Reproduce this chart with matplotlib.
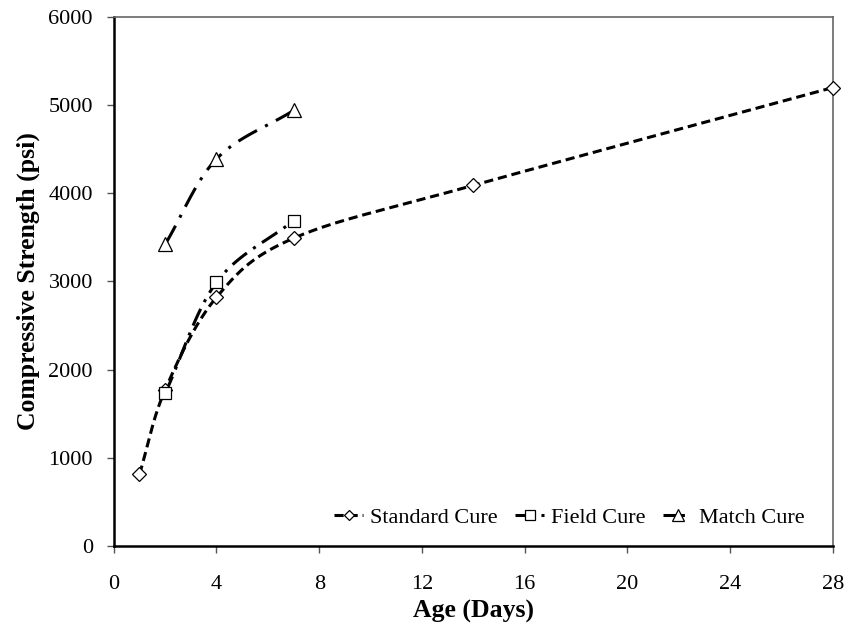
import numpy as np
import matplotlib
matplotlib.use("Agg")
import matplotlib.pyplot as plt
from matplotlib.lines import Line2D

plt.rcParams["font.family"] = ["Liberation Serif", "DejaVu Serif"]

# data
std_age = [1, 2, 4, 7, 14, 28]
std_psi = [810, 1770, 2820, 3490, 4090, 5200]
field_age = [2, 4, 7]
field_psi = [1730, 2990, 3690]
match_age = [2, 4, 7]
match_psi = [3420, 4390, 4940]


def smooth(x, y, n=40):
    # Catmull-Rom style curve through the points (like a spreadsheet "smoothed line")
    x = np.asarray(x, float); y = np.asarray(y, float)
    px = np.concatenate([[2 * x[0] - x[1]], x, [2 * x[-1] - x[-2]]])
    py = np.concatenate([[2 * y[0] - y[1]], y, [2 * y[-1] - y[-2]]])
    xs, ys = [], []
    t = np.linspace(0, 1, n)
    for i in range(1, len(px) - 2):
        for p, out in ((px, xs), (py, ys)):
            p0, p1, p2, p3 = p[i - 1], p[i], p[i + 1], p[i + 2]
            out.append(0.5 * ((2 * p1) + (-p0 + p2) * t
                              + (2 * p0 - 5 * p1 + 4 * p2 - p3) * t ** 2
                              + (-p0 + 3 * p1 - 3 * p2 + p3) * t ** 3))
    return np.concatenate(xs), np.concatenate(ys)


fig = plt.figure(figsize=(8.49, 6.31), dpi=100)
ax = fig.add_axes([0.134, 0.135, 0.847, 0.838])

series = [
    (std_age, std_psi, "Standard Cure", (0, (3.0, 1.6)), "D", 7),
    (field_age, field_psi, "Field Cure", (0, (6, 2.5, 1, 2.5)), "s", 9),
    (match_age, match_psi, "Match Cure", (0, (7, 3, 1, 3)), "^", 10),
]
handles = []
for x, y, lab, ls, mk, ms in series:
    sx, sy = smooth(x, y)
    ax.plot(sx, sy, color="black", lw=2.2, ls=ls, zorder=2)
    ax.plot(x, y, ls="none", marker=mk, ms=ms, mfc="white", mec="black",
            mew=0.9, zorder=3, clip_on=False)
    handles.append(Line2D([], [], color="black", lw=2.2, ls=ls, marker=mk,
                          ms=ms * 0.8, mfc="white", mec="black", mew=0.9))

ax.set_xlim(0, 28)
ax.set_ylim(0, 6000)
ax.set_xticks(range(0, 29, 4))
ax.set_yticks(range(0, 6001, 1000))
ax.tick_params(direction="out", length=5, width=1, color="#555555",
               labelsize=16)
ax.tick_params(axis="y", pad=10)
ax.tick_params(axis="x", pad=16)
for s in ("left", "bottom"):
    ax.spines[s].set_linewidth(1.8)
    ax.spines[s].set_color("black")
for s in ("top", "right"):
    ax.spines[s].set_linewidth(1.2)
    ax.spines[s].set_color("#666666")

ax.set_xlabel("Age (Days)", fontsize=18.5, fontweight="bold", labelpad=4)
ax.set_ylabel("Compressive Strength (psi)", fontsize=18.5, fontweight="bold",
              labelpad=6)

ax.legend(handles, [s[2] for s in series], loc="lower right", frameon=False,
          ncol=3, fontsize=16, handlelength=1.3, handletextpad=0.3,
          columnspacing=0.8, bbox_to_anchor=(0.985, 0.0), borderaxespad=0.4)

fig.savefig("out.png", dpi=100)
